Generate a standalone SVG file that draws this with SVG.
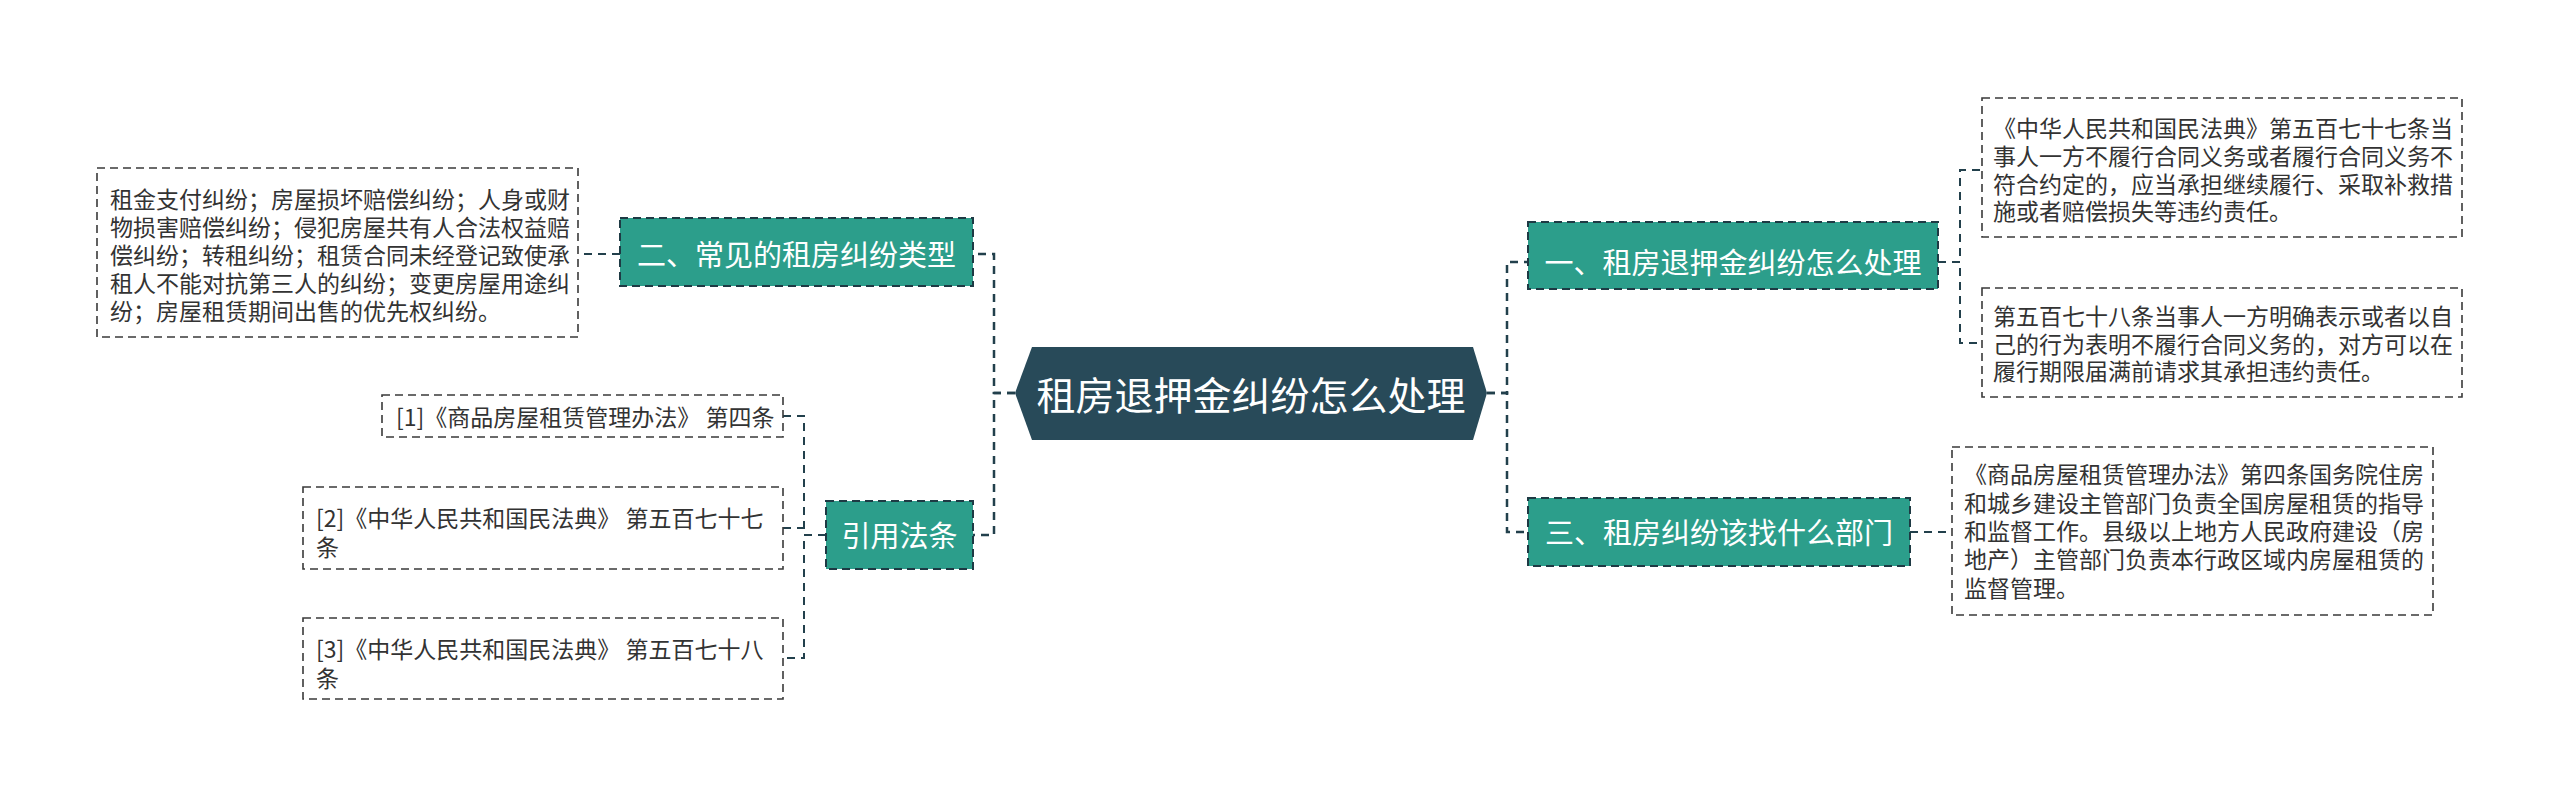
<svg xmlns="http://www.w3.org/2000/svg" width="2560" height="797" viewBox="0 0 2560 797">
<style>
.bg{fill:#ffffff}
.conn{fill:none;stroke:#22404c;stroke-width:2.5;stroke-dasharray:8 6}
.conn2{fill:none;stroke:#22404c;stroke-width:2;stroke-dasharray:8 6}
.center{fill:#284a59}
.topic{fill:#2c9e8b;stroke:#1e3a44;stroke-width:2;stroke-dasharray:8 5}
.leaf{fill:#ffffff;stroke:#3a3a3a;stroke-width:1.6;stroke-dasharray:8 5}
.ct{font-family:"Noto Sans CJK SC","Noto Sans",sans-serif;font-size:39px;fill:#ffffff;dominant-baseline:central;text-anchor:middle}
.tt{font-family:"Noto Sans CJK SC","Noto Sans",sans-serif;font-size:29px;fill:#ffffff;dominant-baseline:central;text-anchor:middle}
.lt{font-family:"Noto Sans CJK SC","Noto Sans",sans-serif;font-size:23px;fill:#333333;dominant-baseline:central}
</style>
<rect class="bg" x="0" y="0" width="2560" height="797"/>
<g id="connectors">
<path class="conn" d="M1015 393 H994 V254 H973"/>
<path class="conn" d="M1015 393 H994 V535 H973"/>
<path class="conn" d="M1487 393 H1507 V262 H1528"/>
<path class="conn" d="M1487 393 H1507 V532 H1528"/>
<path class="conn2" d="M620 254 H578"/>
<path class="conn2" d="M826 535 H804 V416 H783"/>
<path class="conn2" d="M826 535 H804 V528 H783"/>
<path class="conn2" d="M826 535 H804 V658 H783"/>
<path class="conn2" d="M1938 262 H1960 V170 H1982"/>
<path class="conn2" d="M1938 262 H1960 V343 H1982"/>
<path class="conn2" d="M1910 532 H1952"/>
</g>
<g id="center">
<polygon class="center" points="1015,393 1032,347 1473,347 1487,393 1473,440 1032,440"/>
<text class="ct" x="1251" y="393">租房退押金纠纷怎么处理</text>
</g>
<g id="topic-2">
<rect class="topic" x="620" y="218" width="353" height="68"/>
<text class="tt" x="796.5" y="253">二、常见的租房纠纷类型</text>
</g>
<g id="topic-cite">
<rect class="topic" x="826" y="501" width="147" height="68"/>
<text class="tt" x="899.5" y="534">引用法条</text>
</g>
<g id="topic-1">
<rect class="topic" x="1528" y="222" width="410" height="67"/>
<text class="tt" x="1733" y="261">一、租房退押金纠纷怎么处理</text>
</g>
<g id="topic-3">
<rect class="topic" x="1528" y="498" width="382" height="68"/>
<text class="tt" x="1719" y="531">三、租房纠纷该找什么部门</text>
</g>
<g id="leaf-types">
<rect class="leaf" x="97" y="168" width="481" height="169"/>
<text class="lt"><tspan x="110" y="198">租金支付纠纷；房屋损坏赔偿纠纷；人身或财</tspan><tspan x="110" y="226">物损害赔偿纠纷；侵犯房屋共有人合法权益赔</tspan><tspan x="110" y="254">偿纠纷；转租纠纷；租赁合同未经登记致使承</tspan><tspan x="110" y="282">租人不能对抗第三人的纠纷；变更房屋用途纠</tspan><tspan x="110" y="310">纷；房屋租赁期间出售的优先权纠纷。</tspan></text>
</g>
<g id="leaf-cite1">
<rect class="leaf" x="382" y="395" width="401" height="42"/>
<text class="lt" x="396" y="416">[1]《商品房屋租赁管理办法》 第四条</text>
</g>
<g id="leaf-cite2">
<rect class="leaf" x="303" y="487" width="480" height="82"/>
<text class="lt"><tspan x="316" y="517">[2]《中华人民共和国民法典》 第五百七十七</tspan><tspan x="316" y="546">条</tspan></text>
</g>
<g id="leaf-cite3">
<rect class="leaf" x="303" y="618" width="480" height="81"/>
<text class="lt"><tspan x="316" y="648">[3]《中华人民共和国民法典》 第五百七十八</tspan><tspan x="316" y="677">条</tspan></text>
</g>
<g id="leaf-577">
<rect class="leaf" x="1982" y="98" width="480" height="139"/>
<text class="lt"><tspan x="1993" y="127">《中华人民共和国民法典》第五百七十七条当</tspan><tspan x="1993" y="155">事人一方不履行合同义务或者履行合同义务不</tspan><tspan x="1993" y="183">符合约定的，应当承担继续履行、采取补救措</tspan><tspan x="1993" y="210">施或者赔偿损失等违约责任。</tspan></text>
</g>
<g id="leaf-578">
<rect class="leaf" x="1982" y="288" width="480" height="109"/>
<text class="lt"><tspan x="1993" y="315">第五百七十八条当事人一方明确表示或者以自</tspan><tspan x="1993" y="343">己的行为表明不履行合同义务的，对方可以在</tspan><tspan x="1993" y="370">履行期限届满前请求其承担违约责任。</tspan></text>
</g>
<g id="leaf-dept">
<rect class="leaf" x="1952" y="447" width="481" height="168"/>
<text class="lt"><tspan x="1964" y="473">《商品房屋租赁管理办法》第四条国务院住房</tspan><tspan x="1964" y="502">和城乡建设主管部门负责全国房屋租赁的指导</tspan><tspan x="1964" y="530">和监督工作。县级以上地方人民政府建设（房</tspan><tspan x="1964" y="558">地产）主管部门负责本行政区域内房屋租赁的</tspan><tspan x="1964" y="587">监督管理。</tspan></text>
</g>
</svg>
